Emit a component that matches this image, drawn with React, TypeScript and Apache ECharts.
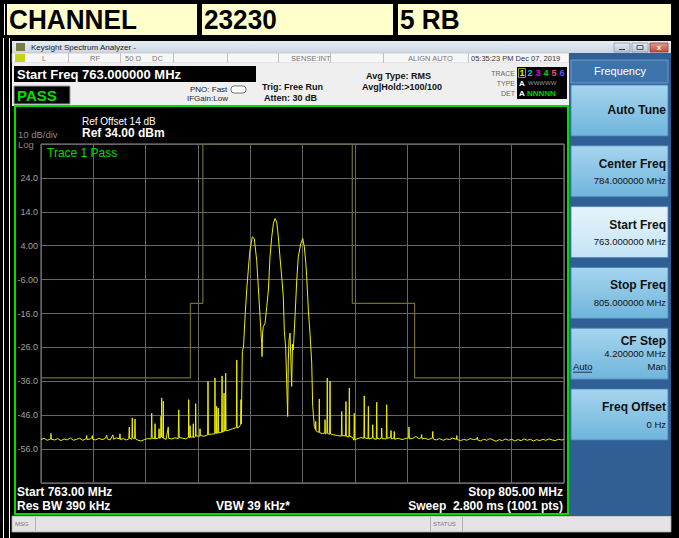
import React, { useEffect, useRef } from 'react';
import * as echarts from 'echarts';

// ---------- data ----------
const headerCells = ['CHANNEL', '23230', '5 RB'];
const freqStartMHz = 763;
const freqStopMHz = 805;
const refLevelDbm = 34;
const bottomLevelDbm = -66;
const yTickLabels = ['', '-56.0', '-46.0', '-36.0', '-26.0', '-16.0', '-6.00', '4.00', '14.0', '24.0', ''];

const limitFreqs = [763, 775, 775, 776, 776, 788, 788, 793, 793, 805];
const limitLevels = [-35, -35, -13, -13, 34, 34, -13, -13, -35, -35];

// [frequency MHz, level dBm]
const traceLowSide: [number, number][] = [
  [763.00, -53.2], [763.25, -52.8], [763.50, -53.4], [763.78, -53.0], [763.80, -51.4], [763.83, -53.1],
  [764.10, -53.3], [764.35, -52.9], [764.60, -53.5], [764.85, -53.0], [765.10, -53.3], [765.35, -52.7],
  [765.60, -53.4], [765.85, -53.1], [766.10, -52.8], [766.35, -53.4], [766.65, -52.9], [766.67, -52.0],
  [766.70, -53.2], [766.95, -53.0], [767.10, -52.6], [767.12, -52.0], [767.15, -53.1], [767.40, -53.3],
  [767.65, -52.8], [767.90, -53.2], [768.15, -52.9], [768.28, -51.9], [768.32, -53.0], [768.55, -53.3],
  [768.78, -51.8], [768.82, -53.1], [769.05, -52.7], [769.30, -53.0], [769.34, -51.5], [769.38, -53.2],
  [769.60, -52.9], [769.85, -53.3], [770.05, -53.0], [770.09, -49.5], [770.12, -52.8], [770.30, -53.1],
  [770.33, -46.8], [770.36, -52.6], [770.52, -53.0], [770.55, -47.1], [770.58, -52.9], [770.80, -53.4],
  [771.05, -53.6], [771.30, -53.2], [771.55, -52.9], [771.85, -53.0], [771.89, -45.4], [771.93, -52.8],
  [772.13, -52.9], [772.16, -48.5], [772.19, -53.0], [772.45, -52.7], [772.48, -50.0], [772.51, -52.8],
  [772.61, -52.7], [772.64, -46.3], [772.67, -52.4], [772.69, -40.9], [772.72, -52.5], [772.80, -52.6],
  [772.82, -41.9], [772.85, -52.9], [773.05, -53.1], [773.22, -49.5], [773.25, -52.8], [773.50, -53.0],
  [773.75, -52.7], [774.02, -52.9], [774.06, -44.4], [774.10, -52.6], [774.40, -52.8], [774.65, -53.0],
  [774.84, -52.5], [774.86, -41.4], [774.89, -52.7], [774.95, -52.6], [774.97, -49.1], [775.00, -52.5],
  [775.21, -52.4], [775.23, -48.5], [775.26, -52.6], [775.40, -52.3], [775.42, -42.6], [775.45, -52.1],
  [775.75, -52.2], [775.77, -50.0], [775.80, -52.0], [776.10, -52.2], [776.38, -51.8], [776.41, -36.0],
  [776.44, -51.7], [776.70, -51.6], [776.95, -51.5], [776.97, -35.0], [777.00, -51.3], [777.09, -51.4],
  [777.11, -43.4], [777.14, -51.2], [777.22, -51.3], [777.24, -43.9], [777.27, -51.2], [777.51, -51.0],
  [777.54, -34.4], [777.57, -51.0], [777.68, -50.8], [777.70, -39.5], [777.73, -50.7], [777.81, -50.5],
  [777.83, -33.6], [777.86, -50.6], [778.10, -50.4], [778.40, -50.0], [778.69, -49.6], [778.72, -29.7],
  [778.75, -49.8], [778.90, -49.5], [779.03, -48.8], [779.06, -41.4], [779.09, -48.5],
];

const traceCarrier: [number, number][] = [
  [779.17, -27.2], [779.26, -26.0], [779.40, -16.0], [779.54, -8.1], [779.67, -2.0], [779.78, 2.7],
  [779.97, 6.6], [780.13, 6.1], [780.32, -0.3], [780.45, -8.1], [780.59, -16.9], [780.72, -24.8],
  [780.75, -28.7], [780.79, -22.0], [780.85, -19.9], [780.99, -18.9], [781.13, -14.0], [781.26, -9.1],
  [781.39, 0.7], [781.53, 6.6], [781.66, 10.5], [781.79, 12.0], [781.93, 11.0], [782.06, 6.6],
  [782.19, 0.7], [782.33, -5.2], [782.46, -11.1], [782.54, -21.1], [782.65, -26.2], [782.81, -46.4],
  [782.86, -30.0], [782.92, -23.8], [783.00, -21.8], [783.13, -37.5], [783.20, -25.0], [783.26, -26.7],
  [783.40, -16.9], [783.54, -6.1], [783.66, 0.7], [783.86, 4.6], [784.02, 6.1], [784.15, 3.6],
  [784.26, -0.8], [784.34, -5.2], [784.47, -15.0], [784.60, -21.8], [784.74, -30.6], [784.82, -43.4],
  [784.95, -49.3],
];

const traceHighSide: [number, number][] = [
  [785.04, -50.2], [785.06, -47.8], [785.09, -50.6], [785.20, -50.9], [785.33, -51.0], [785.35, -41.2],
  [785.38, -51.2], [785.60, -51.4], [785.79, -51.3], [785.81, -47.3], [785.84, -51.5], [785.96, -51.2],
  [785.99, -35.0], [786.02, -51.4], [786.18, -51.6], [786.21, -36.0], [786.24, -51.5], [786.50, -51.8],
  [786.80, -52.0], [787.12, -52.2], [787.15, -44.9], [787.18, -52.0], [787.46, -52.1], [787.49, -42.0],
  [787.52, -52.3], [787.73, -52.4], [787.76, -38.0], [787.79, -52.2], [788.00, -52.5], [788.13, -53.4],
  [788.16, -45.4], [788.19, -53.2], [788.45, -52.9], [788.70, -52.6], [788.93, -52.8], [788.96, -40.3],
  [788.99, -52.7], [789.26, -52.9], [789.29, -43.4], [789.32, -53.0], [789.61, -52.7], [789.64, -48.8],
  [789.67, -52.9], [789.93, -53.1], [789.96, -42.2], [789.99, -52.8], [790.20, -53.0], [790.33, -52.7],
  [790.36, -49.8], [790.39, -52.9], [790.73, -53.0], [790.76, -42.9], [790.79, -52.8], [791.08, -52.6],
  [791.11, -50.5], [791.14, -53.0], [791.34, -52.8], [791.37, -50.8], [791.40, -53.1], [791.70, -52.8],
  [792.00, -53.2], [792.25, -52.9], [792.52, -52.7], [792.55, -49.5], [792.58, -53.0], [792.85, -52.8],
  [793.10, -52.3], [793.35, -52.9], [793.54, -52.6], [793.57, -51.7], [793.60, -53.0], [793.85, -52.8],
  [794.10, -53.2], [794.43, -52.7], [794.46, -50.8], [794.49, -53.0], [794.75, -53.3], [795.00, -52.9],
  [795.30, -53.4], [795.55, -53.0], [795.80, -53.2], [796.05, -52.8], [796.36, -53.1], [796.39, -52.0],
  [796.42, -53.2], [796.70, -53.5], [796.95, -53.1], [797.20, -53.4], [797.45, -52.9], [797.75, -53.2],
  [798.01, -53.0], [798.04, -52.5], [798.07, -53.3], [798.30, -53.6], [798.55, -53.1], [798.80, -53.4],
  [799.05, -52.9], [799.30, -53.3], [799.55, -53.7], [799.80, -53.2], [800.05, -53.5], [800.30, -53.0],
  [800.55, -53.4], [800.80, -53.1], [801.05, -53.6], [801.30, -53.2], [801.55, -53.5], [801.80, -53.0],
  [802.05, -53.4], [802.30, -53.1], [802.55, -53.6], [802.80, -53.2], [803.05, -53.5], [803.30, -53.1],
  [803.55, -53.4], [803.80, -53.0], [804.05, -53.3], [804.30, -53.5], [804.55, -53.1], [804.80, -53.3],
  [805.00, -53.2],
];

const softkeyLabels = ['Auto Tune', 'Center Freq', 'Start Freq', 'Stop Freq', 'CF Step', 'Freq Offset'];
const softkeyValues = ['', '784.000000 MHz', '763.000000 MHz', '805.000000 MHz', '4.200000 MHz', '0 Hz'];
const statusRowTexts = ['L', 'RF', '50 Ω', 'DC', 'SENSE:INT', 'ALIGN AUTO', '05:35:23 PM Dec 07, 2019'];
const traceNumbers = ['1', '2', '3', '4', '5', '6'];

// ---------- helpers ----------
const F = '"Liberation Sans", Arial, sans-serif';
const txt = (text: string, x: number, y: number, font: string, fill: string, align = 'left', extra: any = {}) => ({
  type: 'text', x, y, silent: true, ...extra,
  style: { text, font, fill, textAlign: align, textVerticalAlign: 'middle' },
});
const rect = (x: number, y: number, w: number, h: number, style: any, extra: any = {}) => ({
  type: 'rect', shape: { x, y, width: w, height: h }, style, silent: true, ...extra,
});
const line = (x1: number, y1: number, x2: number, y2: number, stroke: string, lw = 1) => ({
  type: 'line', shape: { x1, y1, x2, y2 }, style: { stroke, lineWidth: lw }, silent: true,
});
const vgrad = (a: string, b: string) => new echarts.graphic.LinearGradient(0, 0, 0, 1, [
  { offset: 0, color: a }, { offset: 1, color: b },
]);

function buildGraphics() {
  const g: any[] = [];
  // header table
  const cellX = [7, 202, 398];
  const cellW = [190, 191, 273];
  headerCells.forEach((t, i) => {
    g.push(rect(cellX[i], 4, cellW[i], 31, { fill: '#ffffcc' }));
    g.push(txt(t, cellX[i] + 2, 20, `bold 27px ${F}`, '#000', 'left', { scaleX: 0.97 }));
  });
  g.push(line(4.5, 4, 4.5, 35, '#ffffff', 1));
  g.push(line(3.5, 38, 3.5, 538, '#ffffff', 1));
  g.push(line(9.5, 38, 9.5, 538, '#ffffff', 1));

  // window title bar
  g.push(rect(12, 41, 659, 12, { fill: vgrad('#e6ecf3', '#cdd7e3') }));
  g.push(rect(16, 43, 9, 8, { fill: '#7b7b4a' }));
  g.push(txt('Keysight Spectrum Analyzer -', 31, 47, `8px ${F}`, '#222'));
  g.push(rect(614, 43, 16, 9, { fill: vgrad('#e3eaf2', '#b9c7d8'), stroke: '#8797aa', lineWidth: 0.8 }));
  g.push(line(619, 49.5, 625, 49.5, '#333', 1));
  g.push(rect(632, 43, 16, 9, { fill: vgrad('#e3eaf2', '#b9c7d8'), stroke: '#8797aa', lineWidth: 0.8 }));
  g.push(rect(637, 45.5, 6, 4, { fill: 'none', stroke: '#333', lineWidth: 0.8 }));
  g.push(rect(650, 43, 18, 9, { fill: vgrad('#e49a8e', '#c4483b'), stroke: '#8a3a30', lineWidth: 0.8 }));
  g.push(txt('x', 659, 47, `bold 8px ${F}`, '#fff', 'center'));

  // status row
  g.push(rect(12, 53, 557, 10, { fill: '#f7f7f7', stroke: '#b8b8b8', lineWidth: 0.6 }));
  g.push(rect(15, 54, 10, 8, { fill: '#c8d21e' }));
  [68, 120, 173, 227, 278, 330, 383, 468].forEach((x) => g.push(line(x + 0.5, 53, x + 0.5, 63, '#c0c0c0', 1)));
  const statusX = [42, 90, 125, 152, 291, 408, 471];
  statusRowTexts.forEach((t, i) => g.push(txt(t, statusX[i], 58.5, `7.5px ${F}`, i === 6 ? '#333' : '#777')));

  // info area
  g.push(rect(12, 63, 557, 43, { fill: '#efefef' }));
  g.push(rect(14, 66, 242, 16, { fill: '#000' }));
  g.push(txt('Start Freq 763.000000 MHz', 17, 74.5, `bold 13px ${F}`, '#fff'));
  g.push(rect(14, 86, 56, 18, { fill: '#000', stroke: '#9a9a9a', lineWidth: 1 }));
  g.push(txt('PASS', 17, 95, `bold 15px ${F}`, '#00e000'));
  g.push(txt('PNO: Fast', 190, 89, `8px ${F}`, '#222'));
  g.push(txt('IFGain:Low', 187, 98.5, `8px ${F}`, '#222'));
  g.push({ type: 'rect', shape: { x: 231, y: 86, width: 15, height: 7, r: 3 }, style: { fill: '#fff', stroke: '#555', lineWidth: 0.8 }, silent: true });
  g.push(txt('Trig: Free Run', 262, 87, `bold 9px ${F}`, '#111'));
  g.push(txt('Atten: 30 dB', 264, 98, `bold 9px ${F}`, '#111'));
  g.push(txt('Avg Type: RMS', 366, 75.5, `bold 9px ${F}`, '#111'));
  g.push(txt('Avg|Hold:>100/100', 362, 86.5, `bold 9px ${F}`, '#111'));
  g.push(txt('TRACE', 515, 73, `7px ${F}`, '#666', 'right'));
  g.push(txt('TYPE', 515, 83, `7px ${F}`, '#666', 'right'));
  g.push(txt('DET', 515, 93, `7px ${F}`, '#666', 'right'));
  g.push(rect(517, 67, 50, 32, { fill: '#000' }));
  const tColors = ['#e8e800', '#00c8d8', '#e000e0', '#00d000', '#ff4a7a', '#5a5aff'];
  g.push(rect(518.5, 68.5, 7, 9, { fill: 'none', stroke: '#8ca000', lineWidth: 1 }));
  traceNumbers.forEach((t, i) => g.push(txt(t, 522 + i * 8, 73, `bold 9px ${F}`, tColors[i], 'center')));
  g.push(txt('A', 522, 83, `bold 8px ${F}`, '#fff', 'center'));
  g.push(txt('WWWWW', 528, 83, `6px ${F}`, '#9a9a9a'));
  g.push(txt('A', 522, 93, `bold 8px ${F}`, '#fff', 'center'));
  g.push(txt('NNNNN', 527, 93, `bold 8px ${F}`, '#00d000'));

  // measurement screen
  g.push(rect(15, 106, 553, 408, { fill: 'none', stroke: '#00dd00', lineWidth: 2 }));
  g.push(txt('Ref Offset 14 dB', 82, 121, `10px ${F}`, '#fff'));
  g.push(txt('Ref 34.00 dBm', 82, 133, `bold 12px ${F}`, '#fff'));
  g.push(txt('10 dB/div', 18, 134, `9.5px ${F}`, '#8a8a8a'));
  g.push(txt('Log', 18, 144, `9.5px ${F}`, '#8a8a8a'));
  g.push(txt('Trace 1 Pass', 47, 153, `12px ${F}`, '#00dd00'));
  g.push(txt('Start 763.00 MHz', 17, 492, `bold 12px ${F}`, '#fff'));
  g.push(txt('Res BW 390 kHz', 17, 506, `bold 12px ${F}`, '#fff'));
  g.push(txt('VBW 39 kHz*', 216, 506, `bold 12px ${F}`, '#fff'));
  g.push(txt('Stop 805.00 MHz', 563, 492, `bold 12px ${F}`, '#fff', 'right'));
  g.push(txt('Sweep  2.800 ms (1001 pts)', 563, 506, `bold 12px ${F}`, '#fff', 'right'));

  // message bar
  g.push(rect(12, 516, 659, 16, { fill: '#e6e3e6', stroke: '#a8a8a8', lineWidth: 0.8 }));
  g.push(txt('MSG', 15, 524, `6px ${F}`, '#777'));
  g.push(line(35.5, 517, 35.5, 531, '#b0b0b0', 1));
  g.push(line(430.5, 517, 430.5, 531, '#b0b0b0', 1));
  g.push(line(462.5, 517, 462.5, 531, '#b0b0b0', 1));
  g.push(txt('STATUS', 433, 524, `6px ${F}`, '#777'));

  // softkey panel
  g.push(rect(569, 53, 102, 463, { fill: '#2f5f95' }));
  g.push(rect(571, 60, 97, 23, { fill: '#3d73ab', stroke: '#6c9cc9', lineWidth: 1 }));
  g.push(txt('Frequency', 620, 71, `11px ${F}`, '#fff', 'center'));
  softkeyLabels.forEach((label, i) => {
    const top = 85 + i * 60.8;
    const selected = i === 2;
    g.push(rect(571, top, 97, 51, {
      fill: selected ? vgrad('#e6f4fb', '#c4e3f4') : vgrad('#a6d5ee', '#6fb5dc'),
      stroke: '#4a80b4', lineWidth: 0.8,
    }));
    if (i === 0) {
      g.push(txt(label, 666, top + 25, `bold 12px ${F}`, '#111', 'right'));
    } else if (i === 4) {
      g.push(txt(label, 666, top + 13, `bold 12px ${F}`, '#111', 'right'));
      g.push(txt(softkeyValues[i], 666, top + 25, `9.5px ${F}`, '#111', 'right'));
      g.push(txt('Auto', 573, top + 38, `9.5px ${F}`, '#111'));
      g.push(line(573, top + 44, 592, top + 44, '#111', 0.8));
      g.push(txt('Man', 666, top + 38, `9.5px ${F}`, '#111', 'right'));
    } else {
      g.push(txt(label, 666, top + 18, `bold 12px ${F}`, '#111', 'right'));
      g.push(txt(softkeyValues[i], 666, top + 35, `9.5px ${F}`, '#111', 'right'));
    }
  });
  return g;
}

export default function App() {
  const ref = useRef<HTMLDivElement>(null);
  useEffect(() => {
    if (!ref.current) return;
    const chart = echarts.init(ref.current, undefined, { renderer: 'svg' });
    const limitData = limitFreqs.map((f, i) => [f, limitLevels[i]]);
    const traceData = [...traceLowSide, ...traceCarrier, ...traceHighSide];
    chart.setOption({
      animation: false,
      backgroundColor: '#000',
      grid: {
        left: 41, top: 144, width: 523, height: 339,
        show: true, borderColor: '#8c8c8c', borderWidth: 1, backgroundColor: 'transparent',
      },
      xAxis: [
        { type: 'value', min: freqStartMHz, max: freqStopMHz, show: false },
        {
          type: 'value', min: 0, max: 10, interval: 1, position: 'bottom',
          axisLine: { show: false }, axisTick: { show: false }, axisLabel: { show: false },
          splitLine: { show: true, lineStyle: { color: '#666', width: 1 } },
        },
      ],
      yAxis: [
        { type: 'value', min: bottomLevelDbm, max: refLevelDbm, show: false },
        {
          type: 'value', min: 0, max: 10, interval: 1, position: 'left',
          axisLine: { show: false }, axisTick: { show: false },
          axisLabel: {
            show: true, margin: 3, color: '#a0a0a0', fontSize: 9, fontFamily: 'Liberation Sans',
            formatter: (v: number) => yTickLabels[Math.round(v)] ?? '',
          },
          splitLine: { show: true, lineStyle: { color: '#666', width: 1 } },
        },
      ],
      graphic: { elements: buildGraphics() },
      series: [
        {
          name: 'Limit', type: 'line', xAxisIndex: 0, yAxisIndex: 0, data: limitData,
          symbol: 'none', lineStyle: { color: '#6e6e36', width: 1.2 }, z: 2, silent: true,
        },
        {
          name: 'Trace 1', type: 'line', xAxisIndex: 0, yAxisIndex: 0, data: traceData,
          symbol: 'none', lineStyle: { color: '#eeee00', width: 1 }, z: 3, silent: true,
        },
      ],
    });
    return () => chart.dispose();
  }, []);
  return <div ref={ref} style={{ position: 'absolute', left: 0, top: 0, width: 679, height: 538 }} />;
}
